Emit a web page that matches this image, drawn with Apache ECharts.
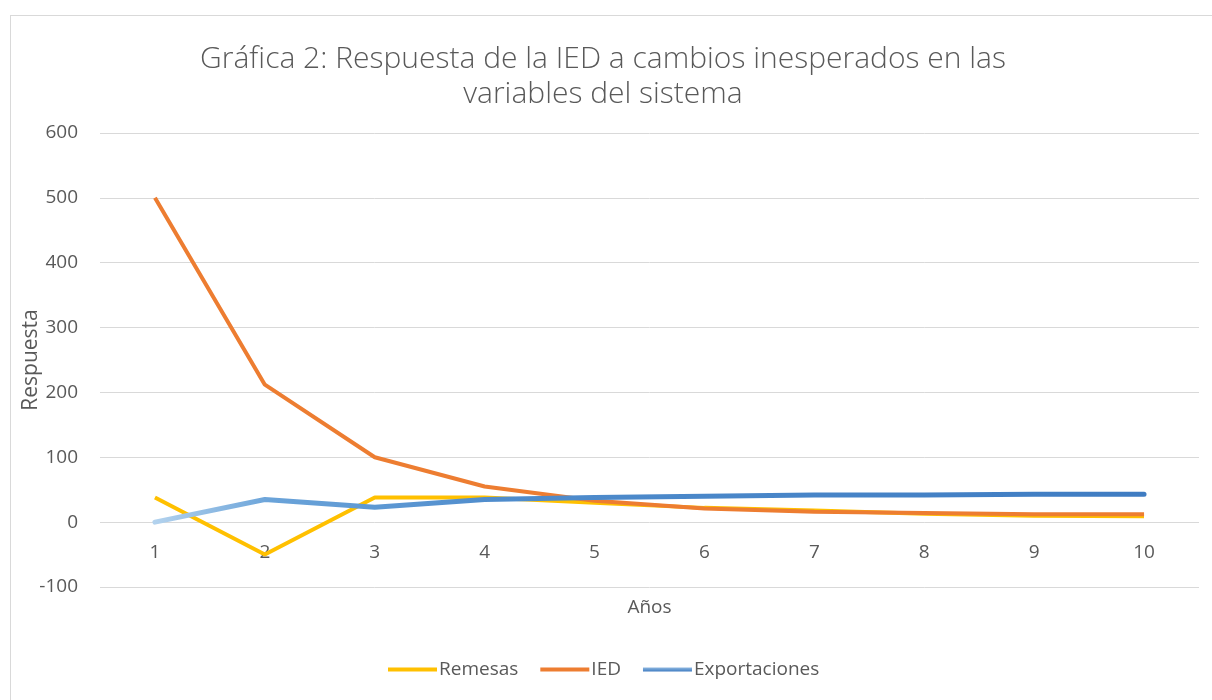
<!DOCTYPE html>
<html>
<head>
<meta charset="utf-8">
<script src="https://cdn.jsdelivr.net/npm/echarts@6/dist/echarts.min.js"></script>
<style>
html,body{margin:0;padding:0;background:#fff;}
#frame{position:absolute;left:10px;top:15px;width:1210px;height:700px;border:1px solid #d9d9d9;box-sizing:border-box;}
#c{position:absolute;left:0;top:0;width:1212px;height:700px;}
</style>
</head>
<body>
<div id="frame"></div>
<div id="c"></div>
<script>
const categories = ['1','2','3','4','5','6','7','8','9','10'];
const remesas = [38, -50, 38, 38, 30, 22, 18, 13, 10, 9];
const ied = [500, 212, 100, 55, 33, 21, 16, 14, 12, 12];
const exportaciones = [0, 35, 23, 35, 38, 40, 42, 42, 43, 43];
const yTicks = { min: -100, max: 600, interval: 100 };

const font = "'Open Sans', 'Liberation Sans', sans-serif";
const txt = '#595959';
const blueGrad = new echarts.graphic.LinearGradient(0, 0, 1, 0, [
  { offset: 0, color: '#b4d3ee' },
  { offset: 0.12, color: '#6aa3d9' },
  { offset: 0.35, color: '#4f8ccc' },
  { offset: 1, color: '#3f7cc2' }
]);
const blueLegend = new echarts.graphic.LinearGradient(0, 0, 0, 1, [
  { offset: 0, color: '#8fb8e0' },
  { offset: 1, color: '#3f7cc2' }
]);

const chart = echarts.init(document.getElementById('c'), null, { renderer: 'canvas' });
chart.setOption({
  backgroundColor: 'transparent',
  animation: false,
  title: {
    text: 'Gráfica 2: Respuesta de la IED a cambios inesperados en las\nvariables del sistema',
    left: 598, top: 37, textAlign: 'center',
    textStyle: { fontFamily: font, fontWeight: 300, fontSize: 30, color: txt, lineHeight: 35 }
  },
  legend: {
    bottom: 16, left: 383,
    itemWidth: 49, itemHeight: 4, itemGap: 22,
    icon: 'rect',
    textStyle: { fontFamily: font, fontSize: 19, color: txt, padding: [0, 0, 0, -3] },
    data: [
      { name: 'Remesas', itemStyle: { color: '#FFC000' } },
      { name: 'IED', itemStyle: { color: '#ED7D31' } },
      { name: 'Exportaciones', itemStyle: { color: blueLegend } }
    ]
  },
  grid: { left: 100, right: 13, top: 133, bottom: 113, containLabel: false },
  xAxis: {
    type: 'category', data: categories, boundaryGap: true,
    offset: -65,
    name: 'Años', nameLocation: 'middle', nameGap: 76,
    nameTextStyle: { fontFamily: font, fontSize: 19, color: txt },
    axisLine: { show: false, onZero: false },
    axisTick: { show: false },
    axisLabel: { fontFamily: font, fontSize: 19, color: txt, margin: 21 },
    splitLine: { show: false }
  },
  yAxis: {
    type: 'value', min: yTicks.min, max: yTicks.max, interval: yTicks.interval,
    name: 'Respuesta', nameLocation: 'middle', nameGap: 58, nameMoveOverlap: false,
    nameTextStyle: { fontFamily: font, fontSize: 21, color: txt },
    axisLine: { show: false }, axisTick: { show: false },
    axisLabel: { fontFamily: font, fontSize: 19, color: txt, margin: 22 },
    splitLine: { lineStyle: { color: '#d9d9d9', width: 1 } }
  },
  series: [
    { name: 'Remesas', type: 'line', data: remesas, showSymbol: false, symbol: 'none',
      lineStyle: { color: '#FFC000', width: 4 }, itemStyle: { color: '#FFC000' } },
    { name: 'IED', type: 'line', data: ied, showSymbol: false, symbol: 'none',
      lineStyle: { color: '#ED7D31', width: 4 }, itemStyle: { color: '#ED7D31' } },
    { name: 'Exportaciones', type: 'line', data: exportaciones, showSymbol: false, symbol: 'none',
      lineStyle: { color: blueGrad, width: 5, cap: 'round' }, itemStyle: { color: blueLegend } }
  ]
});
</script>
</body>
</html>
